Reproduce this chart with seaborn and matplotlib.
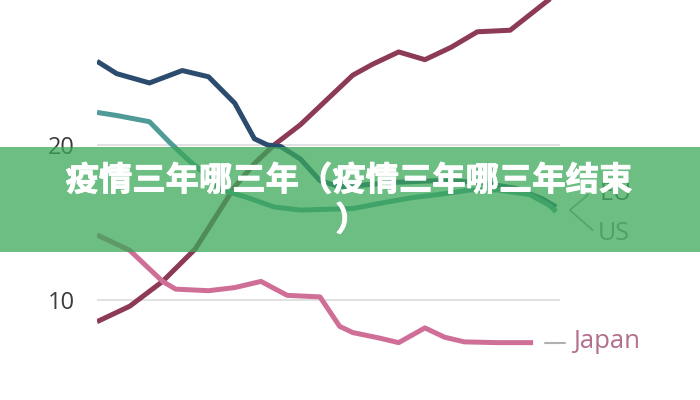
import matplotlib.pyplot as plt
import matplotlib.patches as mpatches
import matplotlib.patheffects as pe
import seaborn as sns
import pandas as pd

# values (x in years, y in chart units)
china_years = [1950, 1955, 1960, 1965, 1968, 1971, 1974, 1977, 1981, 1985, 1989,
               1992, 1996, 2000, 2004, 2008, 2013, 2016, 2019, 2020]
china_vals = [8.6, 9.6, 11.2, 13.3, 15.3, 17.3, 18.8, 20.0, 21.3, 22.9, 24.5,
              25.2, 26.0, 25.5, 26.3, 27.3, 27.4, 28.4, 29.4, 29.9]

eu_years = [1950, 1953, 1958, 1963, 1967, 1971, 1974, 1976, 1978, 1981, 1984,
            1987, 1990, 1996, 2002, 2008, 2014, 2018, 2020]
eu_vals = [25.4, 24.6, 24.0, 24.8, 24.4, 22.7, 20.4, 20.0, 19.9, 19.1, 17.7,
           17.3, 17.4, 17.6, 17.7, 17.6, 17.2, 16.5, 16.0]

us_years = [1950, 1953, 1958, 1961, 1964, 1966, 1969, 1973, 1977, 1981, 1989,
            1994, 1998, 2002, 2007, 2011, 2016, 2019, 2020]
us_vals = [22.1, 21.9, 21.5, 20.2, 19.0, 18.3, 17.1, 16.6, 16.0, 15.8, 15.9,
           16.3, 16.6, 16.8, 17.1, 17.1, 16.8, 16.1, 15.7]

japan_years = [1950, 1955, 1960, 1962, 1967, 1971, 1975, 1979, 1984, 1987, 1989,
               1993, 1996, 2000, 2003, 2006, 2011, 2016.5]
japan_vals = [14.2, 13.2, 11.2, 10.7, 10.6, 10.8, 11.2, 10.3, 10.2, 8.3, 7.9,
              7.55, 7.25, 8.2, 7.6, 7.3, 7.25, 7.25]

y_ticks = [10, 20]
title_line1 = "疫情三年哪三年（疫情三年哪三年结束"
title_line2 = "）"

palette = {"China": "#8c3a55", "EU": "#2b4c6f", "US": "#4f9b98", "Japan": "#cf6f98"}

df = pd.concat([
    pd.DataFrame({"year": china_years, "value": china_vals, "region": "China"}),
    pd.DataFrame({"year": eu_years, "value": eu_vals, "region": "EU"}),
    pd.DataFrame({"year": us_years, "value": us_vals, "region": "US"}),
    pd.DataFrame({"year": japan_years, "value": japan_vals, "region": "Japan"}),
])

sns.set_theme(style="white")
plt.rcParams["font.family"] = ["Open Sans", "DejaVu Sans"]

fig = plt.figure(figsize=(7, 4), dpi=100, facecolor="white")
ax = fig.add_axes([97 / 700, 0, 463 / 700, 1])
ax.set_facecolor("white")

sns.lineplot(data=df, x="year", y="value", hue="region", palette=palette,
             linewidth=3.6, legend=False, errorbar=None, ax=ax,
             solid_capstyle="butt", solid_joinstyle="round")

ax.set_xlim(1950, 2020.6)
ax.set_ylim(3.55, 29.35)
for s in ax.spines.values():
    s.set_visible(False)
ax.set_xticks([])
ax.set_yticks(y_ticks)
ax.set_yticklabels([str(t) for t in y_ticks])
ax.tick_params(axis="y", length=0, pad=16, labelsize=17, labelcolor="#3c3c3c")
ax.set_xlabel("")
ax.set_ylabel("")
for t in y_ticks:
    ax.axhline(t, color="#dcdcdc", linewidth=1.2, zorder=0)
ax.text(-0.047, 30, "30", transform=ax.get_yaxis_transform(), ha="right",
        va="center", fontsize=17, color="#3c3c3c", clip_on=False)

# right-hand labels
ax.plot([2018.3, 2021.4], [7.23, 7.23], color="#b0b0b0", linewidth=1.5, clip_on=False)
ax.text(2022.6, 7.35, "Japan", fontsize=18.5, color="#b36e8d", ha="left",
        va="center", clip_on=False)
ax.plot([2024.9, 2022.1, 2025.6], [16.8, 15.8, 14.5], color="#9a9a9a",
        linewidth=1.2, clip_on=False)
ax.text(2026.6, 16.9, "EU", fontsize=18, color="#555555", ha="left",
        va="center", clip_on=False)
ax.text(2026.3, 14.3, "US", fontsize=18, color="#8a8a8a", ha="left",
        va="center", clip_on=False)

# green banner with title
banner = mpatches.Rectangle((0, 1 - 252 / 400), 1, 105 / 400,
                            transform=fig.transFigure, facecolor=(59 / 255, 168 / 255, 90 / 255),
                            alpha=0.75, edgecolor="none", zorder=10)
fig.patches.append(banner)
bold_fx = [pe.withStroke(linewidth=0.7, foreground="white")]
fig.text(0.499, 1 - 181 / 400, title_line1, ha="center", va="center", fontsize=24,
         fontweight="bold", color="white", family=["Noto Sans CJK SC", "DejaVu Sans"],
         path_effects=bold_fx, zorder=11)
fig.text(0.503, 1 - 221 / 400, title_line2, ha="center", va="center", fontsize=24,
         fontweight="bold", color="white", family=["Noto Sans CJK SC", "DejaVu Sans"],
         path_effects=bold_fx, zorder=11)

fig.savefig("out.png", dpi=100, facecolor="white")
